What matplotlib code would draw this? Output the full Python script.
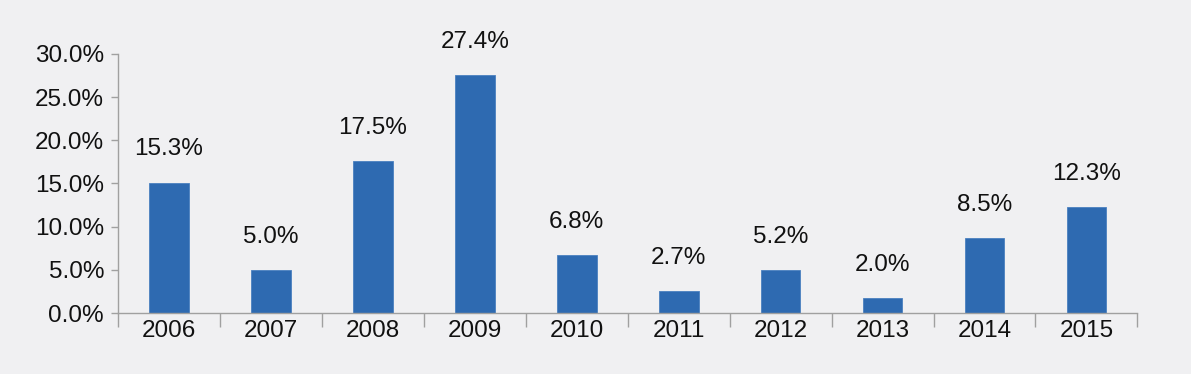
# annual return bar chart

import matplotlib.pyplot as plt
import numpy as np

years = ['2006', '2007', '2008', '2009', '2010', '2011', '2012', '2013', '2014', '2015']
bar_values = [15.1, 5.0, 17.6, 27.5, 6.7, 2.5, 5.0, 1.7, 8.7, 12.3]
label_text = ['15.3%', '5.0%', '17.5%', '27.4%', '6.8%', '2.7%', '5.2%', '2.0%', '8.5%', '12.3%']
y_ticks = [0, 5, 10, 15, 20, 25, 30]

plt.rcParams['font.family'] = ['Liberation Sans', 'DejaVu Sans']

bg = '#f0f0f2'
fig = plt.figure(figsize=(11.91, 3.74), dpi=100, facecolor=bg)
ax = fig.add_axes([0.099, 0.163, 0.856, 0.693], facecolor=bg)

x = np.arange(len(years))
ax.bar(x, bar_values, width=0.39, color='#2e6ab1', edgecolor='#4a80c0', linewidth=0.6)

for xi, v, t in zip(x, bar_values, label_text):
    ax.annotate(t, (xi, v), xytext=(0, 16), textcoords='offset points',
                ha='center', va='bottom', fontsize=17.5, color='#111111')

ax.set_xlim(-0.5, len(years) - 0.5)
ax.set_ylim(0, 30)
ax.set_yticks(y_ticks)
ax.set_yticklabels(['%.1f%%' % t for t in y_ticks])

ax.set_xticks(np.arange(len(years) + 1) - 0.5)
ax.set_xticklabels([])
ax.set_xticks(x, minor=True)
ax.set_xticklabels(years, minor=True)

ax.tick_params(axis='x', which='major', length=10, width=1, color='#a0a0a0', direction='out')
ax.tick_params(axis='x', which='minor', length=0, labelsize=17.5, pad=5, labelcolor='#111111')
ax.tick_params(axis='y', length=5, width=1, color='#a0a0a0', labelsize=17.5, pad=5, labelcolor='#111111')

for s in ['top', 'right']:
    ax.spines[s].set_visible(False)
for s in ['left', 'bottom']:
    ax.spines[s].set_color('#a0a0a0')
    ax.spines[s].set_linewidth(1)

fig.savefig('out.png', dpi=100, facecolor=bg)
